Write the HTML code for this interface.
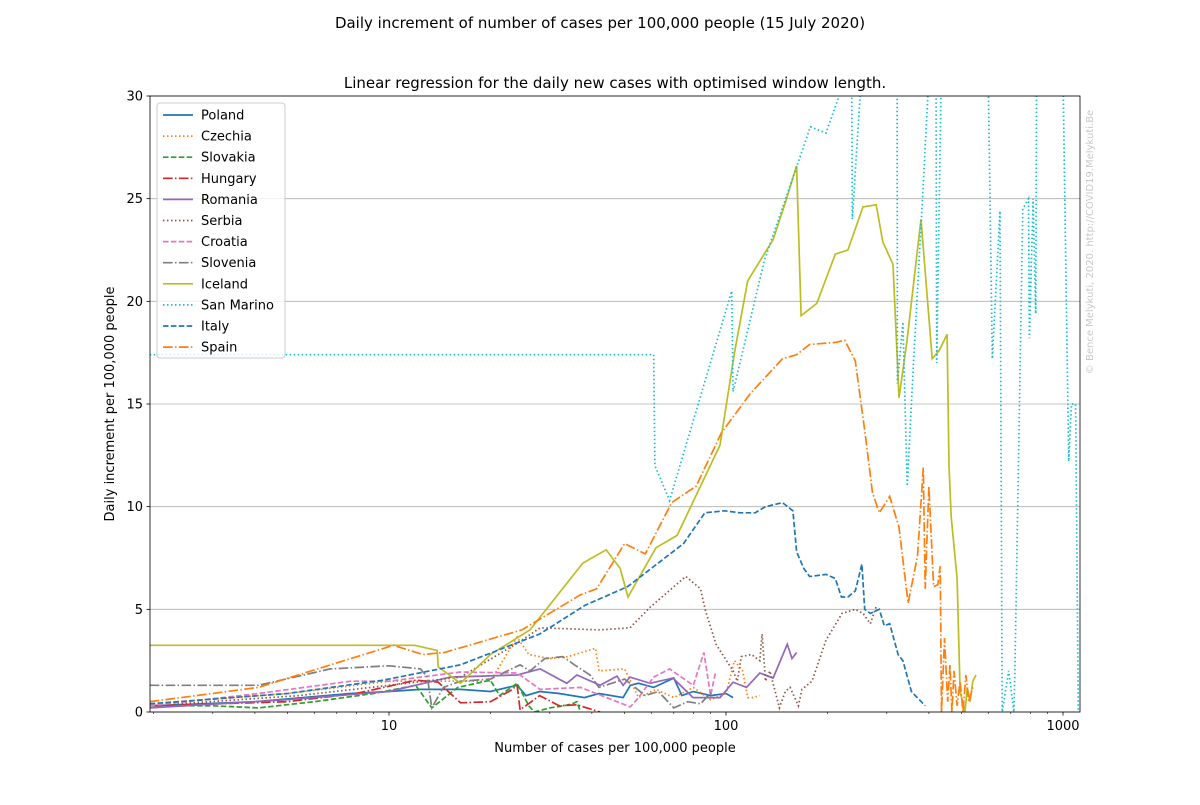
<!DOCTYPE html>
<html><head><meta charset="utf-8"><style>
body{margin:0;background:#fff;font-family:"Liberation Sans","DejaVu Sans",sans-serif}
svg text{font-family:"DejaVu Sans","Liberation Sans",sans-serif}
</style></head><body>
<svg id="c" width="1200" height="800" xmlns="http://www.w3.org/2000/svg">
<defs><clipPath id="pa"><rect x="150" y="96" width="930" height="616"/></clipPath></defs>
<text x="600" y="28" font-size="15" text-anchor="middle">Daily increment of number of cases per 100,000 people (15 July 2020)</text>
<text x="615" y="88" font-size="15" text-anchor="middle">Linear regression for the daily new cases with optimised window length.</text>
<text x="615" y="752" font-size="13" text-anchor="middle">Number of cases per 100,000 people</text>
<text transform="translate(114,404) rotate(-90)" font-size="13" text-anchor="middle">Daily increment per 100,000 people</text>
<text transform="translate(1093,242) rotate(-90)" font-size="10" fill="#c8c8c8" text-anchor="middle">© Bence Melykuti, 2020. http://COVID19.Melykuti.Be</text>
<g id="grid"></g><g id="series" clip-path="url(#pa)"></g><g id="axes"></g><g id="legend"></g>
</svg>
<script>
const yTicks=[0,5,10,15,20,25,30];
const xTickLabels=[10,100,1000];
const names=["Poland","Czechia","Slovakia","Hungary","Romania","Serbia","Croatia","Slovenia","Iceland","San Marino","Italy","Spain"];
const polandX=[1.95,4,7.7,10,12.4,16.3,20,24,25.5,28,32,38,42,49.5,52,55,61,70,74,80,90,100,105];
const polandY=[0.3,0.5,0.9,1.0,1.1,1.1,1.0,1.3,0.8,1.0,0.9,0.7,0.9,0.7,1.3,1.4,1.2,1.65,0.8,1.0,0.8,0.9,0.7];
const czechiaX=[1.95,5,10,14,20,24,26,30,34,41,42,50,55,62,70,80,90,100,106,112,116,120,126];
const czechiaY=[0.4,0.9,1.5,1.5,1.5,3.65,2.8,2.6,2.7,3.1,2.0,2.1,0.7,1.1,0.7,1.2,0.6,0.9,2.5,2.0,0.7,0.7,0.8];
const slovakiaX=[1.95,3,4.1,6,9,12,13.4,16,20,21.3,24,26,27,30,33,35,36.1,37];
const slovakiaY=[0.3,0.3,0.2,0.5,0.9,1.3,0.2,1.2,1.55,0.8,1.4,0.3,0,0.2,0.3,0.4,0.5,0];
const hungaryX=[1.95,5,8,12,14,16.3,20,23,24,24.5,28,32,36.1,42.3];
const hungaryY=[0.3,0.5,0.9,1.55,1.45,0.45,0.5,1.05,1.3,0.1,0.8,0.3,0.35,0];
const romaniaX=[1.95,5,10,15.2,24,28.1,33.7,36.1,42.3,47.5,49.5,51.9,59.5,69.6,79.8,96,105,115,126,138,152,157,162];
const romaniaY=[0.2,0.6,1.0,1.7,1.8,2.1,1.4,1.8,1.3,1.75,1.3,1.7,1.4,1.65,0.7,0.7,1.45,1.2,1.9,1.65,3.3,2.6,2.9];
const serbiaX=[1.95,5.4,10,16.3,24.3,28.1,42.3,51.9,59.5,76,84,86.7,93.4,105,108,111,119,126,128,131,135,144,150,155,164,168,180,198,221,242,255,268,280];
const serbiaY=[0.3,0.8,1.3,1.7,3.4,4.1,4.0,4.1,5.1,6.6,6.0,5.0,3.3,2.0,1.5,2.7,2.8,2.5,3.8,1.5,2.0,0.2,1.0,1.2,0.3,1.1,1.5,3.5,4.8,5.0,4.8,4.3,5.2];
const croatiaX=[1.95,4.1,7.7,10,16.3,24,28.1,37,52,55,61,68,76,80,86,90,93];
const croatiaY=[0.3,0.9,1.5,1.5,1.95,1.9,1.1,1.2,0.25,0.7,1.7,2.1,1.55,1.3,2.9,0.8,1.9];
const sloveniaX=[1.95,4.1,6.7,10,12.4,13,13.4,14.5,16.3,20,24.5,26.2,29,32.8,35.5,39.5,42,50,57.6,63,70,77,84,91];
const sloveniaY=[1.3,1.3,2.1,2.25,2.1,1.7,0.2,1.2,1.5,1.6,2.3,2.0,2.6,2.7,2.3,1.8,1.2,1.6,0.8,1.0,0.2,0.5,0.4,1.0];
const icelandX=[1.95,11.9,13.9,14,16.3,20,26.2,37.6,44.1,48.5,51.2,62,71.6,96,106,116,138,150,162,167,186,211,230,255,279,292,313,326,344,379,409,429,453,459,466,485,495,512,520,530,540,552];
const icelandY=[3.25,3.25,3.0,2.2,1.4,2.8,4.0,7.25,7.9,7.0,5.6,8.0,8.6,13,17.5,21,23,24.8,26.6,19.3,19.9,22.3,22.5,24.6,24.7,22.9,21.8,15.3,18,24,17.2,17.6,18.4,12,9.5,6.5,1.0,0,1.2,0.5,1.5,1.8];
const sanMarinoX=[1.95,61,61.5,68,104,105,130,178,198,222,236,237,250,262,322,322.5,335,345,360,380,400,420,422,435,600,617,650,660,690,715,720,760,790,795,815,830,835,1000,1040,1060,1090,1110];
const sanMarinoY=[17.4,17.4,12,10.3,20.5,15.6,22,28.5,28.2,30.5,30.5,24,30,31,31,16,19,11,17,24,31,31,17,31,31,17.2,24.4,0,2,0,2,24.5,25,18.2,25,19.4,31,31,12.2,15,15,0];
const italyX=[1.95,5,9.6,16.3,28,38.2,51,74.8,86.6,99,110,122,131,147,158,162,170,177,198,211,220,230,242,253,258,268,285,295,306,324,335,355,390];
const italyY=[0.4,0.9,1.55,2.3,3.8,5.2,6.1,8.2,9.7,9.8,9.7,9.7,10,10.2,9.8,7.8,7,6.6,6.7,6.5,5.6,5.6,5.9,7.2,5.0,4.8,5.0,4.2,4.3,2.8,2.5,1.0,0.3];
const spainX=[1.95,4.1,10.3,12.6,14.6,24.8,36.9,41.3,50,57.6,69,81.6,97,118,147,162,177,211,225,242,259,272,285,306,326,347,370,385,390,400,413,425,432,436,445,455,462,468,475,485,495,505,515,525,540];
const spainY=[0.5,1.2,3.25,2.8,2.9,4.0,5.7,6.0,8.2,7.7,10.2,11,13.6,15.5,17.2,17.4,17.9,18,18.1,17.1,13.5,10.7,9.7,10.5,9,5.3,7.6,11.9,6,11,6.1,6.2,7.1,0,3.6,0.5,2.3,0,2,0.3,1.5,0,1.8,0.5,1.2];

const X0=150,X1=1080,Y0=712,Y1=96;
const xs=v=>389+(Math.log10(v)-1)*337;
const ys=v=>Y0-(v/30)*(Y0-Y1);
const NS="http://www.w3.org/2000/svg";
function mk(t,a,p){const e=document.createElementNS(NS,t);for(const k in a)e.setAttribute(k,a[k]);p.appendChild(e);return e;}
const colors=["#1f77b4","#ff7f0e","#2ca02c","#d62728","#9467bd","#8c564b","#e377c2","#7f7f7f","#bcbd22","#17becf","#1f77b4","#ff7f0e"];
const SOL="",DOT="1.5,2.5",DASH="5.5,2.4",DD="9.6,2.4,1.5,2.4";
const dashes=[SOL,DOT,DASH,DD,SOL,DOT,DASH,DD,SOL,DOT,DASH,DD];
const seriesX=[polandX,czechiaX,slovakiaX,hungaryX,romaniaX,serbiaX,croatiaX,sloveniaX,icelandX,sanMarinoX,italyX,spainX];
const seriesY=[polandY,czechiaY,slovakiaY,hungaryY,romaniaY,serbiaY,croatiaY,sloveniaY,icelandY,sanMarinoY,italyY,spainY];
const grid=document.getElementById('grid'),ax=document.getElementById('axes'),sg=document.getElementById('series'),lg=document.getElementById('legend');
yTicks.forEach(t=>{
  const y=ys(t);
  const g=mk('line',{x1:X0,x2:X1,y1:y,y2:y,stroke:'#b0b0b0','stroke-width':0.8},grid);
  
  
  mk('line',{x1:X0-3.5,x2:X0,y1:y,y2:y,stroke:'#000','stroke-width':0.8},ax);
  const tx=mk('text',{x:X0-7,y:y+4.5,'font-size':13,'text-anchor':'end'},ax);
  tx.textContent=t;
  
  
});
for(let d=1;d<=1000;d*=10){for(let m=1;m<10;m++){const v=d*m;const x=xs(v);if(x<X0||x>X1)continue;const maj=(m===1);mk('line',{x1:x,x2:x,y1:Y0,y2:Y0+(maj?3.5:2),stroke:'#000','stroke-width':maj?0.8:0.6},ax);}}
xTickLabels.forEach(t=>{
  const tx=mk('text',{x:xs(t),y:Y0+18,'font-size':13,'text-anchor':'middle'},ax);
  tx.textContent=t;
  
  
});
const fr=mk('rect',{x:X0,y:Y1,width:X1-X0,height:Y0-Y1,fill:'none',stroke:'#000','stroke-width':0.8},ax);


seriesX.forEach((sx,i)=>{
  const d=sx.map((v,j)=>(j?'L':'M')+xs(v).toFixed(1)+','+ys(seriesY[i][j]).toFixed(1)).join('');
  const p=mk('path',{d:d,fill:'none',stroke:colors[i],'stroke-width':1.7,'stroke-dasharray':dashes[i]||'none'},sg);
  
  
});
const lb=mk('rect',{x:157,y:103,width:128,height:255,rx:3,fill:'#fff','fill-opacity':0.8,stroke:'#ccc','stroke-width':1},lg);


names.forEach((n,i)=>{
  const y=115+i*21.1;
  mk('line',{x1:163,x2:193,y1:y,y2:y,stroke:colors[i],'stroke-width':1.7,'stroke-dasharray':dashes[i]||'none'},lg);
  const t=mk('text',{x:201,y:y+4.5,'font-size':13},lg);
  t.textContent=n;
  
  
});
</script>
</body></html>
